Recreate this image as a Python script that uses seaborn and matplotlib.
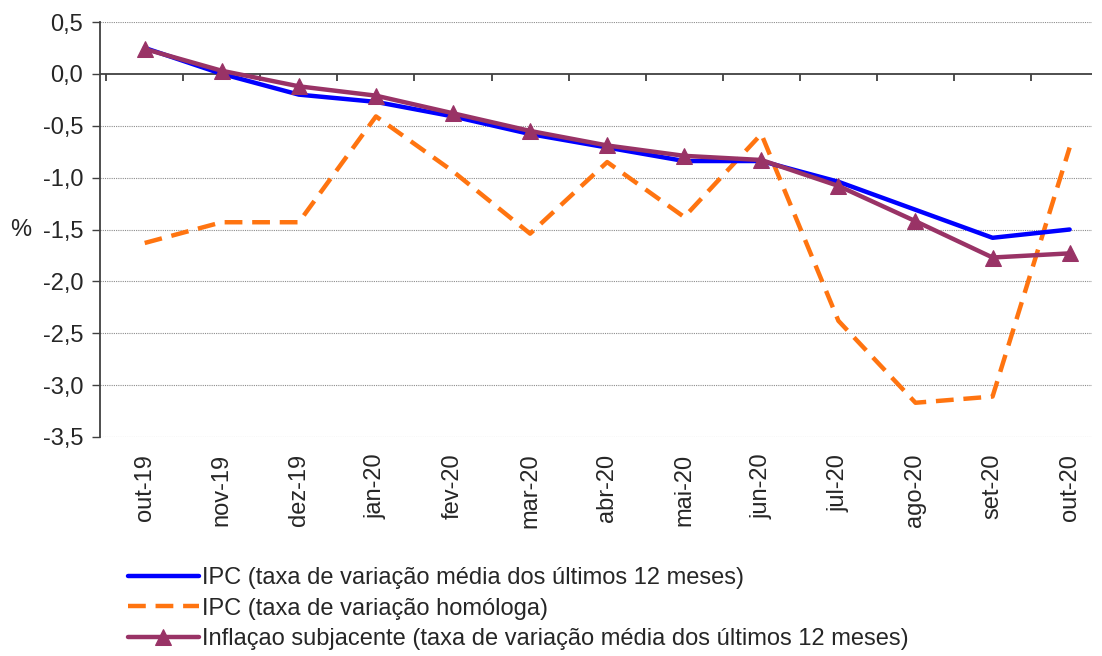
import numpy as np
import pandas as pd
import matplotlib
matplotlib.use("Agg")
import matplotlib.pyplot as plt
import seaborn as sns

months = ["out-19", "nov-19", "dez-19", "jan-20", "fev-20", "mar-20", "abr-20",
          "mai-20", "jun-20", "jul-20", "ago-20", "set-20", "out-20"]
ipc_media = [0.25, 0.00, -0.20, -0.27, -0.41, -0.58, -0.71, -0.84, -0.84, -1.04, -1.31, -1.58, -1.50]
ipc_homologa = [-1.63, -1.43, -1.43, -0.41, -0.94, -1.54, -0.85, -1.38, -0.58, -2.38, -3.17, -3.11, -0.71]
subjacente = [0.24, 0.03, -0.12, -0.21, -0.38, -0.55, -0.69, -0.79, -0.83, -1.08, -1.42, -1.77, -1.73]

labels = ["IPC (taxa de variação média dos últimos 12 meses)",
          "IPC (taxa de variação homóloga)",
          "Inflaçao subjacente (taxa de variação média dos últimos 12 meses)"]

sns.set_style("white")
plt.rcParams["font.family"] = ["Liberation Sans", "DejaVu Sans"]
FS = 17

df = pd.DataFrame({"x": np.arange(len(months)), "media": ipc_media,
                   "homologa": ipc_homologa, "sub": subjacente})

fig = plt.figure(figsize=(11.02, 6.56), dpi=100)
ax = fig.add_axes([100 / 1102, 1 - 437 / 656, 992 / 1102, 415 / 656])

# gridlines first so they sit under the series
yticks = np.arange(-3.5, 0.51, 0.5)
for v in yticks:
    if abs(v) > 1e-9:
        ax.axhline(v, color="#8c8c8c", lw=0.8, ls=(0, (1, 1)), zorder=0)
ax.axhline(0, color="#404040", lw=1.3, zorder=1)
# category tick marks on the zero line
bounds = np.arange(len(months) + 1) - 0.5
ax.vlines(bounds, -0.07, 0, color="#404040", lw=1.3, zorder=1)

sns.lineplot(data=df, x="x", y="media", ax=ax, color="#0000ff", lw=3.2,
             label=labels[0], zorder=3)
sns.lineplot(data=df, x="x", y="homologa", ax=ax, color="#ff7410", lw=3.2,
             label=labels[1], zorder=2)
ax.lines[-1].set_dashes([4, 2.2])
sns.lineplot(data=df, x="x", y="sub", ax=ax, color="#993366", lw=3.2,
             marker="^", markersize=11, markeredgecolor="#993366",
             label=labels[2], zorder=4)

ax.set_xlim(-0.58, 12.29)
ax.set_ylim(-3.5, 0.5)
ax.set_yticks(yticks)
ax.set_yticklabels([f"{v:.1f}".replace(".", ",") for v in yticks], fontsize=FS)
ax.set_xticks(np.arange(len(months)))
ax.set_xticklabels(months, rotation=90, fontsize=FS)
ax.tick_params(axis="x", length=0, pad=12)
ax.tick_params(axis="y", length=6, width=1, color="#404040", left=True, pad=6)
ax.set_xlabel("")
ax.set_ylabel("%", rotation=0, fontsize=FS, va="center", ha="left")
ax.yaxis.set_label_coords(-0.091, 0.5)

for s in ["top", "right", "bottom"]:
    ax.spines[s].set_visible(False)
ax.spines["left"].set_color("#404040")
ax.spines["left"].set_linewidth(1.3)

handles, labs = ax.get_legend_handles_labels()
ax.legend_.remove()
fig.legend(handles, labs, loc="upper left", bbox_to_anchor=(128 / 1102, 1 - 567 / 656),
           frameon=False, fontsize=FS, handlelength=3.0, handletextpad=0.15,
           labelspacing=0.36, borderaxespad=0, borderpad=0)

fig.savefig("out.png", dpi=100)
